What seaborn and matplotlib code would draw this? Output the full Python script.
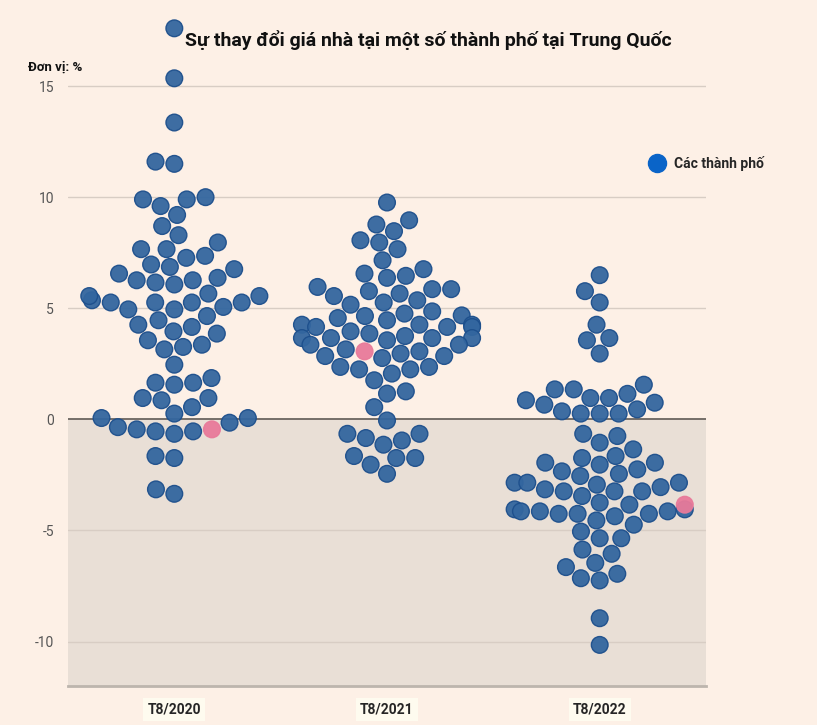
import numpy as np
import pandas as pd
import seaborn as sns
import matplotlib.pyplot as plt
from matplotlib.lines import Line2D

periods = ["T8/2020", "T8/2021", "T8/2022"]

# % change of house prices, 69 cities per period
cities_2020 = [17.6, 15.35, 13.36, 11.6, 11.5, 9.9, 9.9, 10.0, 9.6, 9.2,
               8.7, 8.29, 7.96, 7.66, 7.66, 7.36, 7.27, 6.97, 6.86, 6.76,
               6.56, 6.37, 6.26, 6.16, 6.26, 6.07, 5.66, 5.55, 5.36, 5.26,
               5.26, 5.26, 5.26, 5.55, 5.06, 4.95, 4.95, 4.65, 4.46, 4.26,
               4.16, 3.96, 3.86, 3.56, 3.36, 3.26, 3.15, 2.46, 1.86, 1.65,
               1.56, 1.65, 0.96, 0.96, 0.86, 0.55, 0.06, -0.15, 0.06, 0.26,
               -0.54, -0.54, -0.65, -0.45, -0.35, -1.65, -1.74, -3.35, -3.15]
cities_2021 = [9.76, 8.96, 8.77, 8.47, 7.96, 8.06, 7.66, 7.16, 6.76, 6.56,
               6.46, 6.37, 5.96, 5.66, 5.77, 5.86, 5.86, 5.55, 5.36, 5.16,
               5.26, 4.76, 4.86, 4.56, 4.46, 4.65, 4.68, 4.26, 4.26, 4.26,
               4.16, 4.16, 3.96, 4.16, 3.56, 3.66, 3.75, 3.66, 3.66, 3.66,
               3.86, 3.15, 3.06, 3.36, 3.36, 2.96, 2.85, 2.85, 2.36, 2.76,
               2.36, 2.25, 2.25, 2.06, 1.76, 1.26, 1.16, 0.55, -0.05, -0.65,
               -0.95, -0.65, -0.84, -1.14, -1.74, -1.65, -1.74, -2.04, -2.45]
cities_2022 = [6.49, 5.77, 5.26, 4.26, 3.66, 3.56, 2.96, 1.35, 0.86, 0.96,
               1.15, 1.56, 0.96, 0.66, 0.75, 1.35, 0.26, 0.36, 0.26, 0.26,
               0.45, -0.65, -0.75, -1.05, -1.35, -1.65, -1.95, -1.95, -1.74, -2.25,
               -2.04, -2.55, -2.34, -2.45, -2.85, -2.94, -2.85, -3.24, -3.05, -3.24,
               -2.85, -3.24, -3.45, -3.15, -3.75, -3.84, -4.14, -4.05, -4.14, -4.05,
               -4.14, -4.25, -4.25, -4.25, -4.36, -4.55, -4.74, -5.05, -5.35, -5.35,
               -5.86, -6.05, -6.46, -6.65, -7.25, -6.95, -7.15, -8.95, -10.15]
highlight = [-0.45, 3.06, -3.84]

rows = []
for p, vals, h in zip(periods, [cities_2020, cities_2021, cities_2022], highlight):
    for v in vals:
        rows.append((p, v, "Các thành phố"))
    rows.append((p, h, "Nổi bật"))
df = pd.DataFrame(rows, columns=["period", "change", "group"])

bg = "#fdf0e6"
neg_bg = "#e9dfd6"
blue = "#33669f"
blue_edge = "#1d4f8c"
pink = "#e87a9a"

sns.set_style("white")
plt.rcParams['font.family'] = ['Roboto', 'DejaVu Sans']
plt.rcParams['axes.unicode_minus'] = False

fig = plt.figure(figsize=(8.17, 7.25), dpi=100, facecolor=bg)
ax = fig.add_axes([0.0832, 0.0538, 0.781, 0.924])
ax.set_facecolor(bg)

ax.axhspan(-12, 0, color=neg_bg, zorder=0)
for y in [-10, -5, 5, 10, 15]:
    ax.axhline(y, color="#d8cdc4", lw=1, zorder=0.5)
ax.axhline(0, color="#6b6560", lw=1.3, zorder=0.6)

sns.swarmplot(data=df, x="period", y="change", hue="group", order=periods,
              hue_order=["Các thành phố", "Nổi bật"], palette=[blue, pink],
              size=12, linewidth=1, alpha=0.95, legend=False, ax=ax, zorder=3)

# pink dot without the dark outline
for coll in ax.collections:
    fc = coll.get_facecolors()
    if len(fc) == 0:
        continue
    ec = np.array(fc)
    is_blue = np.isclose(fc[:, 0], plt.matplotlib.colors.to_rgba(blue)[0], atol=0.02)
    ec[is_blue] = plt.matplotlib.colors.to_rgba(blue_edge)
    coll.set_edgecolors(ec)

ax.set_xlim(-0.5, 2.5)
ax.set_ylim(-12, 18.15)
ax.set_yticks([-10, -5, 0, 5, 10, 15])
ax.set_xlabel("")
ax.set_ylabel("")
ax.tick_params(axis="y", length=0, labelcolor="#555555", labelsize=10, pad=10)
ax.tick_params(axis="x", length=6, color="#b5ada6", width=1, labelsize=10, pad=6)
for lab in ax.get_xticklabels():
    lab.set_fontweight("bold")
    lab.set_bbox(dict(facecolor="#fefbef", edgecolor="none", pad=3))

for s in ["left", "top", "right"]:
    ax.spines[s].set_visible(False)
ax.spines["bottom"].set_color("#bdb5ad")
ax.spines["bottom"].set_linewidth(2)

fig.text(0.524, 0.945, "Sự thay đổi giá nhà tại một số thành phố tại Trung Quốc",
         ha="center", va="center", fontsize=14, fontweight="bold", color="#111111")
fig.text(0.034, 0.907, "Đơn vị: %", ha="left", va="center", fontsize=9.5,
         fontweight="bold", color="#111111")

handle = Line2D([], [], marker="o", ls="", markersize=13, markerfacecolor="#0a64c8",
                markeredgecolor="#0a64c8", label="Các thành phố")
fig.legend(handles=[handle], loc="center left", bbox_to_anchor=(0.772, 0.775),
           frameon=False, prop={"weight": "bold", "size": 10}, handletextpad=0.2)

fig.savefig("out.png", dpi=100, facecolor=bg)
